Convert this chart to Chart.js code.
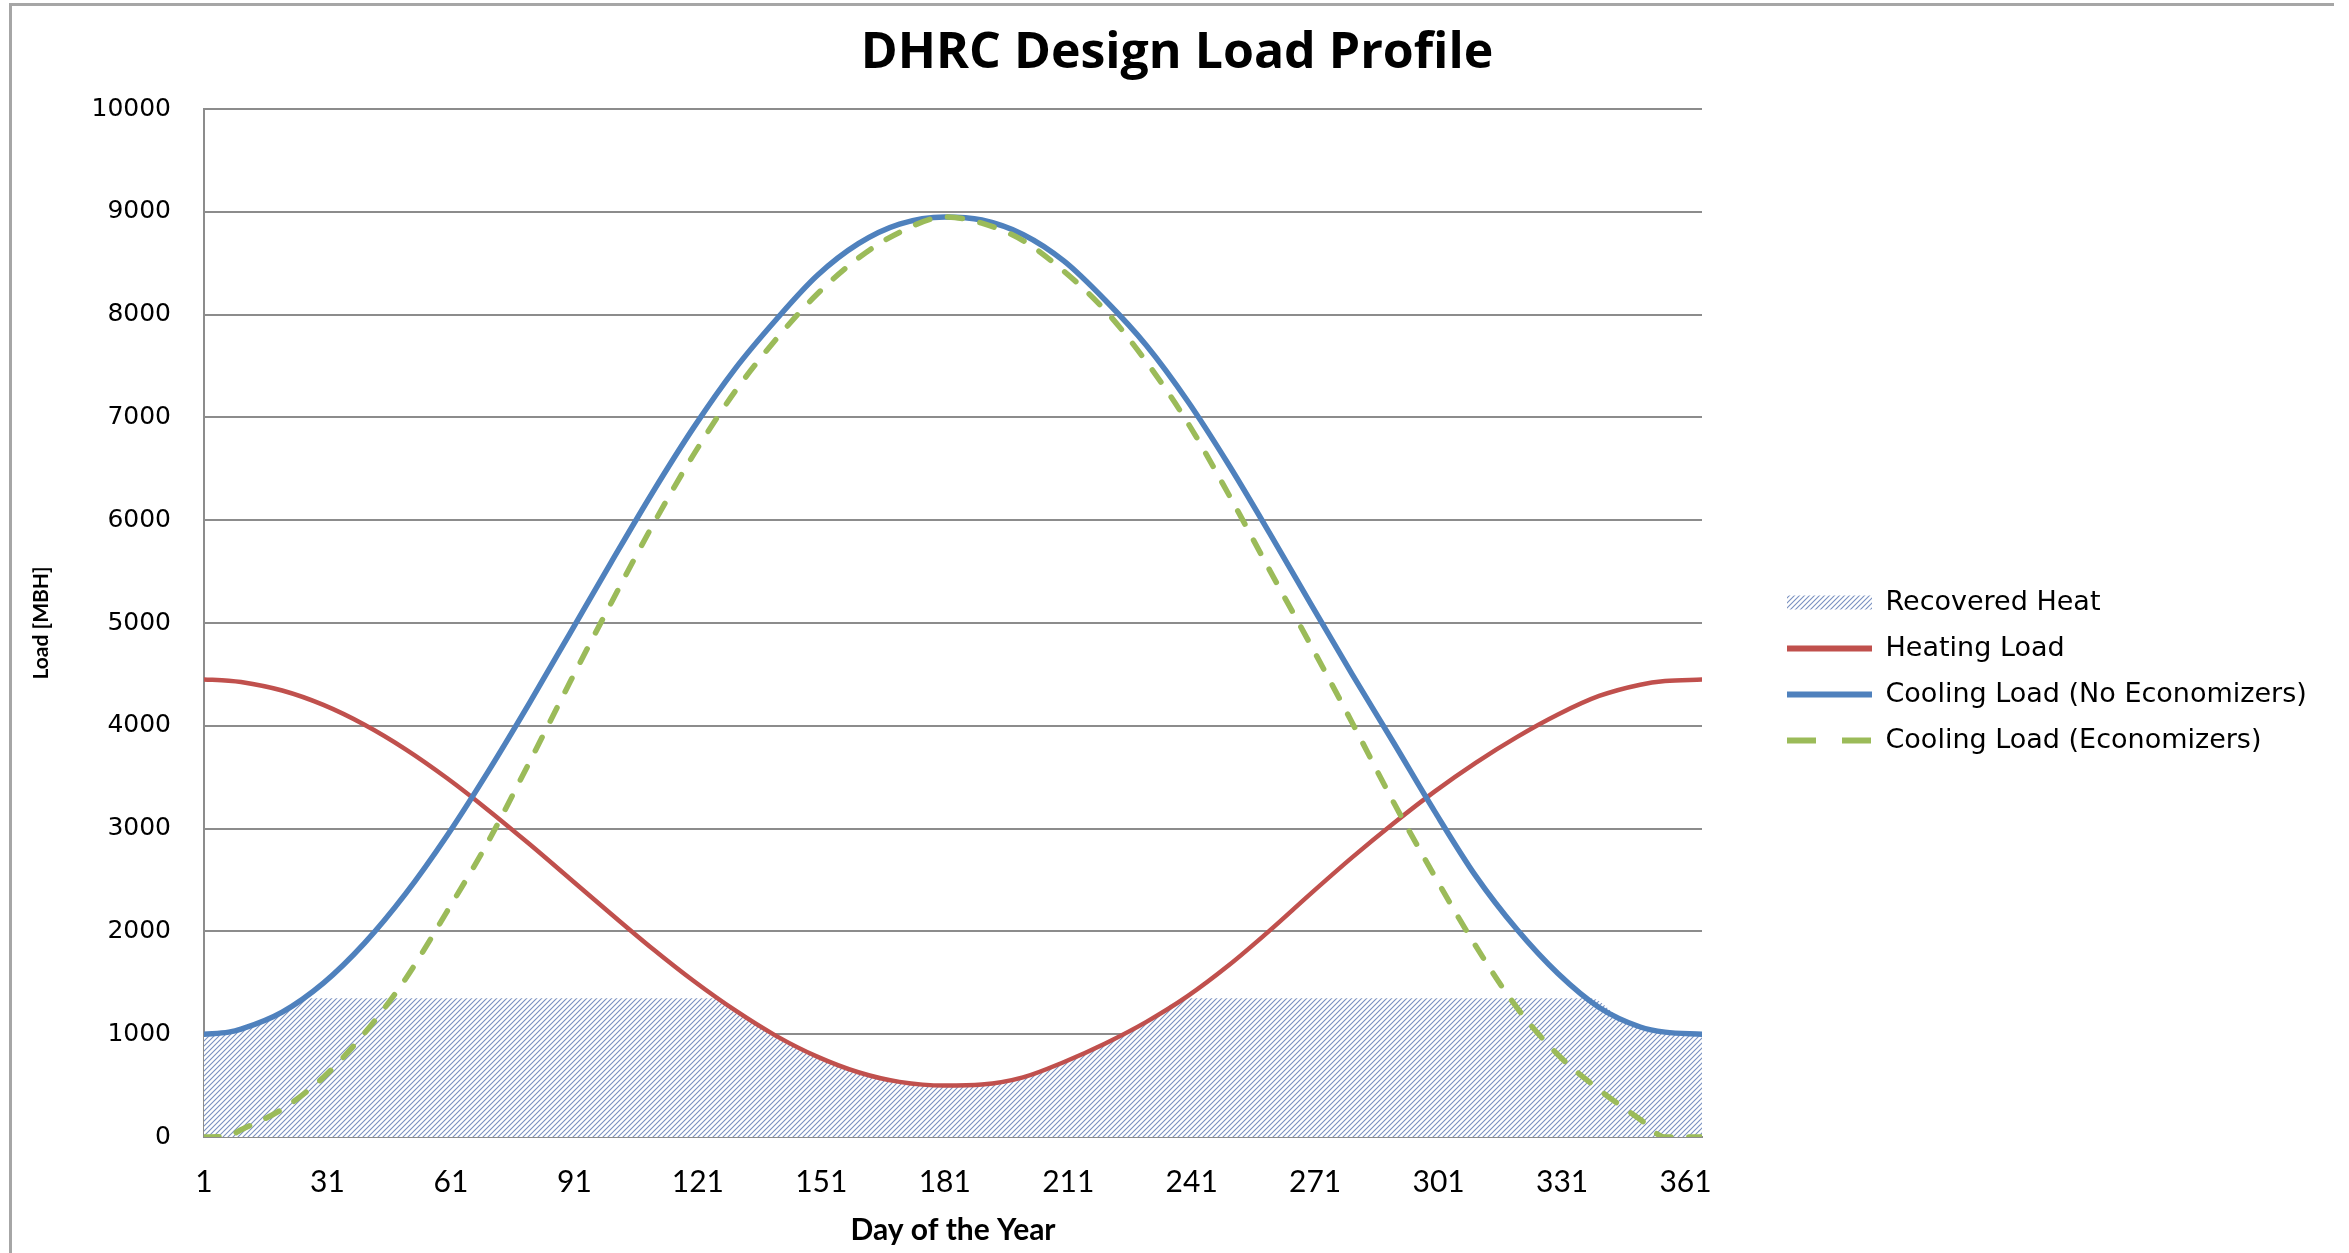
<!DOCTYPE html>
<html>
<head>
<meta charset="utf-8">
<script src="https://cdn.jsdelivr.net/npm/chart.js@4.4.1/dist/chart.umd.min.js"></script>
<style>
html,body{margin:0;padding:0;background:#fff;width:2349px;height:1253px;overflow:hidden}
#frame{position:absolute;left:9px;top:3px;width:2325px;height:1270px;border-top:3px solid #a6a6a6;border-left:3px solid #a6a6a6;box-sizing:border-box}
#c{position:absolute;left:0;top:0}
</style>
</head>
<body>
<div id="frame"></div>
<canvas id="c" width="2349" height="1253"></canvas>
<script>
// ---- data ----
const days = [1,7,10,20,30,40,50,60,70,80,90,100,110,120,130,140,150,160,170,181,190,200,210,220,230,240,250,260,270,280,290,300,310,320,330,340,350,356,365];
const heatingLoad = [4450,4439,4426,4343,4203,4010,3771,3492,3182,2852,2510,2167,1831,1517,1233,984,782,630,536,500,510,580,730,910,1120,1370,1670,2010,2370,2720,3050,3360,3640,3890,4110,4290,4400,4435,4450];
const coolingNoEcon = [1000,1020,1049,1215,1497,1886,2367,2928,3552,4216,4905,5595,6270,6903,7470,7950,8380,8690,8880,8950,8920,8780,8520,8140,7700,7160,6540,5870,5180,4500,3840,3170,2540,2020,1590,1260,1070,1020,1000];
const coolingEcon = [0,10,70,270,580,1010,1540,2190,2870,3640,4430,5200,5950,6640,7250,7760,8200,8550,8800,8950,8890,8720,8420,8040,7540,6950,6250,5510,4780,4030,3260,2540,1860,1260,800,460,170,0,0];
const recoveredDays = [1,10,20,26,126,130,140,150,160,170,181,190,200,210,220,230,240,338,345,350,356,365];
const recoveredHeat = [1000,1049,1215,1350,1350,1233,984,782,630,536,500,510,580,730,910,1120,1350,1350,1160,1070,1020,1000];
const xTickDays = [1,31,61,91,121,151,181,211,241,271,301,331,361];
const seriesNames = ['Recovered Heat','Heating Load','Cooling Load (No Economizers)','Cooling Load (Economizers)'];
const yMin = 0, yMax = 10000, yStep = 1000;
const titleText = 'DHRC Design Load Profile';
const xTitle = 'Day of the Year';
const yTitle = 'Load [MBH]';

// ---- styling ----
const RED = '#c0504d', BLUE = '#4f81bd', GREEN = '#9bbb59', GRID = '#8c8c8c';
const lineColors = [null, RED, BLUE, GREEN];
const legendFont = {family: '"DejaVu Sans", sans-serif', size: 27};
const legendPad = 19, legendBoxW = 85;

function makeHatch() {
  const s = 5;
  const c = document.createElement('canvas');
  c.width = s; c.height = s;
  const g = c.getContext('2d');
  g.fillStyle = '#ffffff'; g.fillRect(0, 0, s, s);
  g.strokeStyle = '#7a90c0'; g.lineWidth = 1.1;
  g.beginPath();
  g.moveTo(0, s); g.lineTo(s, 0);
  g.moveTo(-s/2, s/2); g.lineTo(s/2, -s/2);
  g.moveTo(s/2, s*1.5); g.lineTo(s*1.5, s/2);
  g.stroke();
  return g.createPattern(c, 'repeat');
}
const hatch = makeHatch();

const pts = (xs, ys) => xs.map((x, i) => ({x: x, y: ys[i]}));

// layout: chart area right edge at 1702, legend symbols start at ~1787, title centred on the canvas
const CHART_W = 2349, AREA_RIGHT = 1702, LEGEND_LEFT = 1768, legendFitW = 400;
const padRight = CHART_W - AREA_RIGHT - legendFitW;

const boxShift = {
  id: 'boxShift',
  afterLayout(chart) {
    const lg = chart.legend;
    if (lg) { lg.left = LEGEND_LEFT; lg.right = CHART_W; lg.width = lg.right - lg.left; }
    const tb = chart.titleBlock;
    if (tb) { tb.left = 5; tb.right = CHART_W; tb.width = tb.right - tb.left; }
  }
};

new Chart(document.getElementById('c'), {
  type: 'line',
  data: {
    datasets: [
      {label: seriesNames[0], data: pts(recoveredDays, recoveredHeat), backgroundColor: hatch, borderColor: 'rgba(0,0,0,0)', borderWidth: 0, fill: 'origin', pointRadius: 0, cubicInterpolationMode: 'monotone', order: 4},
      {label: seriesNames[1], data: pts(days, heatingLoad), borderColor: RED, backgroundColor: RED, borderWidth: 4.5, fill: false, pointRadius: 0, cubicInterpolationMode: 'monotone', borderCapStyle: 'round', order: 3},
      {label: seriesNames[2], data: pts(days, coolingNoEcon), borderColor: BLUE, backgroundColor: BLUE, borderWidth: 5.5, fill: false, pointRadius: 0, cubicInterpolationMode: 'monotone', borderCapStyle: 'round', order: 2},
      {label: seriesNames[3], data: pts(days, coolingEcon), borderColor: GREEN, backgroundColor: GREEN, borderWidth: 5.5, borderDash: [15, 18], borderCapStyle: 'round', fill: false, pointRadius: 0, cubicInterpolationMode: 'monotone', order: 1}
    ]
  },
  options: {
    responsive: false,
    animation: false,
    devicePixelRatio: 1,
    layout: {padding: {left: 20, right: padRight, top: 0, bottom: 0}},
    scales: {
      x: {
        type: 'linear', min: 1, max: 365,
        afterBuildTicks: s => { s.ticks = xTickDays.map(v => ({value: v})); },
        afterFit: s => { s.height = 116; },
        grid: {display: false, drawTicks: false},
        border: {display: true, color: GRID, width: 2},
        ticks: {autoSkip: false, maxRotation: 0, padding: 27, color: '#000', font: {family: 'Lato, sans-serif', size: 30}},
        title: {display: true, text: xTitle, color: '#000', font: {family: 'Lato, sans-serif', size: 30, weight: 'bold'}, padding: {top: 0, bottom: 5}}
      },
      y: {
        min: yMin, max: yMax,
        afterFit: s => { s.width = 184; },
        grid: {color: GRID, lineWidth: 2, drawTicks: false},
        border: {display: true, color: GRID, width: 2},
        ticks: {stepSize: yStep, padding: 33, color: '#000', font: {family: '"DejaVu Sans", sans-serif', size: 25}, callback: v => String(v)},
        title: {display: true, text: yTitle, color: '#000', font: {family: 'Lato, sans-serif', size: 21, weight: 'bold'}, padding: {top: 9, bottom: 0}}
      }
    },
    plugins: {
      filler: {drawTime: 'beforeDatasetsDraw'},
      tooltip: {enabled: false},
      title: {display: true, text: titleText, color: '#000', font: {family: '"Open Sans", sans-serif', size: 50, weight: 'bold'}, padding: {top: 24, bottom: 25}},
      legend: {
        display: true, position: 'right', align: 'center', maxWidth: legendFitW,
        title: {display: true, text: '', font: {size: 10}, padding: {top: 0, bottom: 78}},
        labels: {
          usePointStyle: true, pointStyleWidth: legendBoxW, boxHeight: 14, padding: legendPad,
          color: '#000', font: legendFont,
          sort: (a, b) => a.datasetIndex - b.datasetIndex,
          generateLabels: chart => {
            const items = Chart.defaults.plugins.legend.labels.generateLabels(chart);
            items.forEach(it => {
              const i = it.datasetIndex;
              if (i === 0) { it.pointStyle = 'rect'; it.fillStyle = hatch; it.lineWidth = 0; it.strokeStyle = 'rgba(0,0,0,0)'; it.lineDash = []; }
              else {
                it.pointStyle = 'line'; it.lineWidth = 6; it.lineCap = 'butt';
                it.strokeStyle = lineColors[i]; it.fillStyle = lineColors[i];
                it.lineDash = i === 3 ? [29, 26] : [];
              }
            });
            return items;
          }
        }
      }
    }
  },
  plugins: [boxShift]
});
</script>
</body>
</html>
